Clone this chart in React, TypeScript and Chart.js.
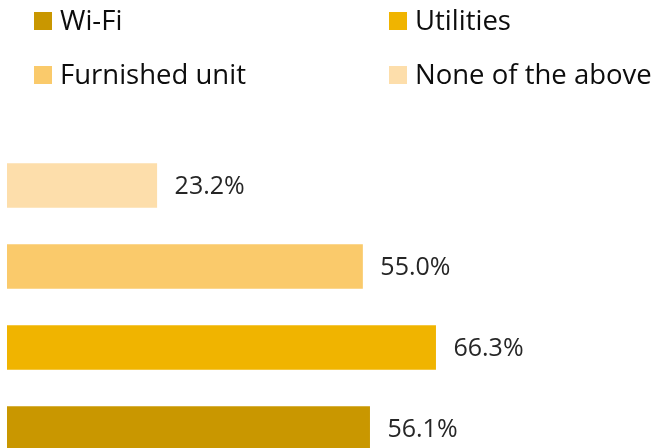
import React, { useEffect, useRef } from "react";
import { Chart, registerables } from "chart.js";

Chart.register(...registerables);

// Data (top-to-bottom order of bars)
const categories = ["None of the above", "Furnished unit", "Utilities", "Wi-Fi"];
const values = [23.2, 55.0, 66.3, 56.1];
// Legend order (row-major)
const legendOrder = ["Wi-Fi", "Utilities", "Furnished unit", "None of the above"];

const palette: Record<string, string> = {
  "Wi-Fi": "#C99700",
  "Utilities": "#F0B400",
  "Furnished unit": "#FACA6B",
  "None of the above": "#FDDEAB",
};

const FONT = "'Open Sans', 'Noto Sans', sans-serif";

const valueLabelPlugin = {
  id: "valueLabels",
  afterDatasetsDraw(chart: any) {
    const ctx = chart.ctx;
    const meta = chart.getDatasetMeta(0);
    ctx.save();
    ctx.font = `25px ${FONT}`;
    ctx.fillStyle = "#262626";
    ctx.textAlign = "left";
    ctx.textBaseline = "middle";
    meta.data.forEach((bar: any, i: number) => {
      const v = chart.data.datasets[0].data[i] as number;
      ctx.fillText(v.toFixed(1) + "%", bar.x + 17.5, bar.y + 1);
    });
    ctx.restore();
  },
};

const legendPlugin = {
  id: "customLegend",
  afterDraw(chart: any) {
    const ctx = chart.ctx;
    ctx.save();
    ctx.font = `27.5px ${FONT}`;
    ctx.textBaseline = "middle";
    ctx.textAlign = "left";
    const colX = [34, 389];
    const rowY = [21, 75];
    const box = 18;
    legendOrder.forEach((name, i) => {
      const cx = colX[i % 2];
      const cy = rowY[Math.floor(i / 2)];
      ctx.fillStyle = palette[name];
      ctx.fillRect(cx, cy - box / 2, box, box);
      ctx.fillStyle = "#0d0d0d";
      ctx.fillText(name, cx + box + 8, cy + 1);
    });
    ctx.restore();
  },
};

export default function App() {
  const ref = useRef<HTMLCanvasElement | null>(null);

  useEffect(() => {
    if (!ref.current) return;
    const chart = new Chart(ref.current, {
      type: "bar",
      data: {
        labels: categories,
        datasets: [
          {
            label: "Share",
            data: values,
            backgroundColor: categories.map((c) => palette[c]),
            borderWidth: 0,
            categoryPercentage: 1,
            barPercentage: 0.552,
          },
        ],
      },
      options: {
        indexAxis: "y",
        animation: false,
        responsive: false,
        maintainAspectRatio: false,
        layout: { padding: { top: 145, bottom: 11, left: 7, right: 5 } },
        scales: {
          x: { display: false, min: 0, max: 100 },
          y: { display: false },
        },
        plugins: {
          legend: { display: false },
          tooltip: { enabled: false },
          title: { display: false },
        },
      },
      plugins: [valueLabelPlugin, legendPlugin],
    });
    return () => chart.destroy();
  }, []);

  return (
    <div style={{ position: "absolute", left: 0, top: 0, width: 659, height: 480 }}>
      <canvas ref={ref} width={659} height={480} style={{ width: 659, height: 480 }} />
    </div>
  );
}
